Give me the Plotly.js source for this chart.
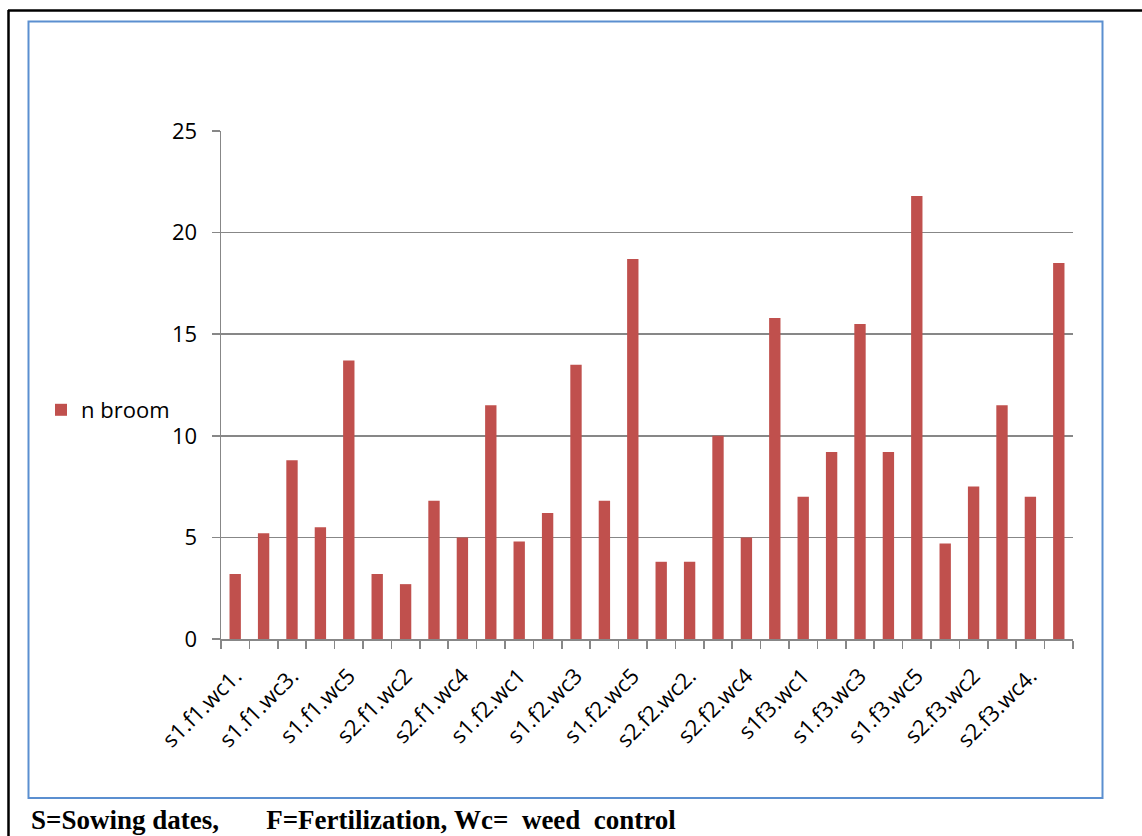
<!DOCTYPE html>
<html>
<head>
<meta charset="utf-8">
<script src="https://cdn.plot.ly/plotly-3.0.1.min.js"></script>
<style>
  html, body { margin: 0; padding: 0; background: #ffffff; }
  #chart { width: 1142px; height: 836px; }
</style>
</head>
<body>
<div id="chart"></div>
<script>
// ---- data ----
var categories = [
  's1.f1.wc1.', 's1.f1.wc2', 's1.f1.wc3.', 's1.f1.wc4', 's1.f1.wc5',
  's2.f1.wc1', 's2.f1.wc2', 's2.f1.wc3', 's2.f1.wc4', 's2.f1.wc5',
  's1.f2.wc1', 's1.f2.wc2', 's1.f2.wc3', 's1.f2.wc4', 's1.f2.wc5',
  's2.f2.wc1', 's2.f2.wc2.', 's2.f2.wc3', 's2.f2.wc4', 's2.f2.wc5',
  's1f3.wc1', 's1.f3.wc2', 's1.f3.wc3', 's1.f3.wc4', 's1.f3.wc5',
  's2.f3.wc1', 's2.f3.wc2', 's2.f3.wc3', 's2.f3.wc4.', 's2.f3.wc5'
];
var nBroom = [
  3.2, 5.2, 8.8, 5.5, 13.7,
  3.2, 2.7, 6.8, 5.0, 11.5,
  4.8, 6.2, 13.5, 6.8, 18.7,
  3.8, 3.8, 10.0, 5.0, 15.8,
  7.0, 9.2, 15.5, 9.2, 21.8,
  4.7, 7.5, 11.5, 7.0, 18.5
];
var seriesName = 'n broom';
var yTickValues = [0, 5, 10, 15, 20, 25];
var NB = '\u00a0';
function sp(n) { return new Array(n + 1).join(NB); }
var caption = 'S=Sowing dates,' + sp(7) + 'F=Fertilization,' + sp(1) + 'Wc=' + sp(2) + 'weed' + sp(2) + 'control';

// ---- layout geometry ----
var W = 1142, H = 836;
var M = { l: 221, r: 69, t: 131, b: 197 };
var PW = W - M.l - M.r, PH = H - M.t - M.b;
function px(x) { return (x - M.l) / PW; }
function py(y) { return (H - M.b - y) / PH; }

// show label on every other category
var tickText = categories.map(function (c, i) { return i % 2 === 0 ? c : ''; });

var trace = {
  type: 'bar',
  x: categories,
  y: nBroom,
  name: seriesName,
  marker: { color: '#C0504D', line: { width: 0 } },
  showlegend: true,
  hoverinfo: 'x+y'
};

var axisGray = '#878787';
var layout = {
  width: W, height: H,
  margin: M,
  paper_bgcolor: '#ffffff',
  plot_bgcolor: '#ffffff',
  font: { family: 'Open Sans, sans-serif', size: 22, color: '#000000' },
  bargap: 0.6,
  showlegend: true,
  legend: {
    x: px(41), xanchor: 'left',
    y: py(410), yanchor: 'middle',
    font: { family: 'Open Sans, sans-serif', size: 22, color: '#000000' },
    bgcolor: 'rgba(0,0,0,0)',
    itemwidth: 30
  },
  xaxis: {
    type: 'category',
    tickmode: 'array',
    tickvals: categories,
    ticktext: tickText,
    tickangle: -45,
    ticks: 'outside',
    ticklen: 8,
    tickwidth: 1.5,
    tickcolor: axisGray,
    tickson: 'boundaries',
    ticklabelstandoff: 14,
    showline: true,
    linecolor: axisGray,
    linewidth: 1.5,
    showgrid: false,
    zeroline: false,
    tickfont: { family: 'Open Sans, sans-serif', size: 22, color: '#000000' },
    fixedrange: true
  },
  yaxis: {
    range: [0, 25],
    tickmode: 'array',
    tickvals: yTickValues,
    ticks: 'outside',
    ticklen: 8,
    tickwidth: 1.5,
    tickcolor: axisGray,
    ticklabelstandoff: 10,
    showline: true,
    linecolor: axisGray,
    linewidth: 1.5,
    showgrid: true,
    gridcolor: axisGray,
    gridwidth: 1.5,
    zeroline: false,
    tickfont: { family: 'Open Sans, sans-serif', size: 22, color: '#000000' },
    fixedrange: true
  },
  shapes: [
    // chart area border (blue)
    { type: 'rect', xref: 'paper', yref: 'paper',
      x0: px(28.5), x1: px(1102.5), y0: py(798), y1: py(21.5),
      line: { color: '#5b8fd0', width: 2 }, fillcolor: 'rgba(0,0,0,0)', layer: 'below' },
    // outer black frame: top and left edges
    { type: 'line', xref: 'paper', yref: 'paper',
      x0: px(8), x1: px(1142), y0: py(10.5), y1: py(10.5),
      line: { color: '#000000', width: 2.5 } },
    { type: 'line', xref: 'paper', yref: 'paper',
      x0: px(8.5), x1: px(8.5), y0: py(10), y1: py(836),
      line: { color: '#000000', width: 2.5 } }
  ],
  annotations: [
    { xref: 'paper', yref: 'paper', x: px(29), y: py(820),
      xanchor: 'left', yanchor: 'middle', showarrow: false,
      text: '<b>' + caption + '</b>',
      font: { family: 'Liberation Serif, Times New Roman, serif', size: 27, color: '#000000' } }
  ]
};

Plotly.newPlot('chart', [trace], layout, { displayModeBar: false, staticPlot: true });
</script>
</body>
</html>
